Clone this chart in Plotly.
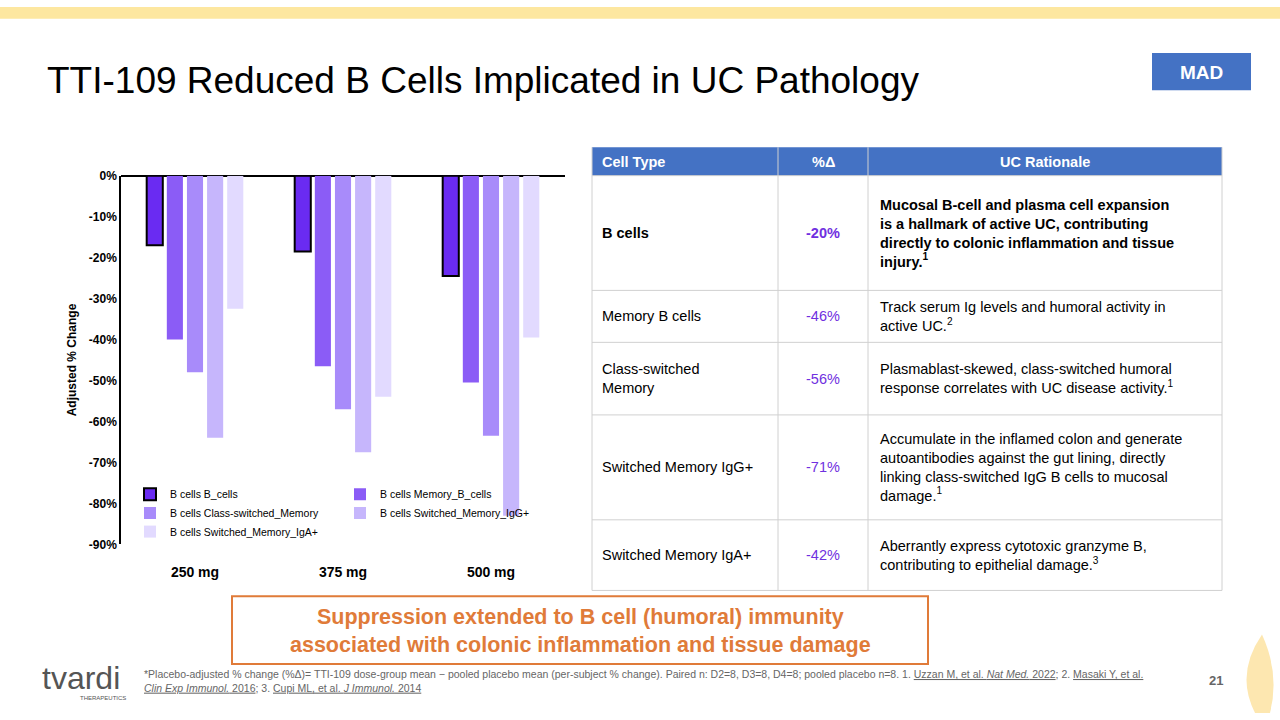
import plotly.graph_objects as go

doses = ["250 mg", "375 mg", "500 mg"]
series = ["B cells B_cells", "B cells Memory_B_cells", "B cells Class-switched_Memory",
          "B cells Switched_Memory_IgG+", "B cells Switched_Memory_IgA+"]
values = [
    [-17, -18.5, -24.5],
    [-40, -46.5, -50.5],
    [-48, -57, -63.5],
    [-64, -67.5, -83],
    [-32.5, -54, -39.5],
]
colors = ["#6a2bf2", "#8b5cf6", "#a88bfa", "#c6b6fc", "#e2daff"]
legend_ids = ["legend", "legend", "legend2", "legend2", "legend3"]
yticks = [0, -10, -20, -30, -40, -50, -60, -70, -80, -90]

cell_types = ["B cells", "Memory B cells", "Class-switched<br>Memory", "Switched Memory IgG+", "Switched Memory IgA+"]
pct = ["-20%", "-46%", "-56%", "-71%", "-42%"]
rationale = [
    "Mucosal B-cell and plasma cell expansion<br>is a hallmark of active UC, contributing<br>directly to colonic inflammation and tissue<br>injury.<sup>1</sup>",
    "Track serum Ig levels and humoral activity in<br>active UC.<sup>2</sup>",
    "Plasmablast-skewed, class-switched humoral<br>response correlates with UC disease activity.<sup>1</sup>",
    "Accumulate in the inflamed colon and generate<br>autoantibodies against the gut lining, directly<br>linking class-switched IgG B cells to mucosal<br>damage.<sup>1</sup>",
    "Aberrantly express cytotoxic granzyme B,<br>contributing to epithelial damage.<sup>3</sup>",
]
row_edges = [143, 172, 289, 342, 416, 523, 595]
col_edges = [592, 778, 868, 1222]

W, H = 1280, 720
fig = go.Figure()
for i, s in enumerate(series):
    fig.add_trace(go.Bar(x=doses, y=values[i], name=s, marker_color=colors[i], legend=legend_ids[i],
                         marker_line_color="black", marker_line_width=2 if i == 0 else 0))

def px(x): return x / W
def py(y): return 1 - y / H

leg = dict(orientation="h", xanchor="left", yanchor="middle", entrywidth=165,
           font=dict(size=10.5), bgcolor="rgba(0,0,0,0)", itemwidth=30)
fig.update_layout(
    width=W, height=H, margin=dict(l=0, r=0, t=0, b=0),
    paper_bgcolor="white", plot_bgcolor="white",
    font=dict(family="Liberation Sans, Arial", color="black"),
    barmode="group", bargap=0.32, bargroupgap=0.2,
    xaxis=dict(domain=[121 / W, 565 / W], tickfont=dict(size=14, family="Liberation Sans", weight="bold"),
               ticklabelstandoff=18, showline=False),
    yaxis=dict(domain=[1 - 548 / H, 1 - 172 / H], range=[-90, 0], tickvals=yticks,
               ticktext=[f"{v}%" for v in yticks], tickfont=dict(size=12, weight="bold"),
               showgrid=False, showline=True, linecolor="black", linewidth=1.5,
               zeroline=True, zerolinecolor="black", zerolinewidth=1.5,
               title=dict(text="Adjusted % Change", font=dict(size=12, weight="bold"), standoff=10)),
    legend=dict(leg, x=px(130), y=py(497)),
    legend2=dict(leg, x=px(130), y=py(516)),
    legend3=dict(leg, x=px(130), y=py(535)),
    showlegend=True,
)

shapes = []
ann = []
def A(text, x, y, xanchor="center", **kw):
    d = dict(text=text, x=px(x), y=py(y), xref="paper", yref="paper", showarrow=False,
             xanchor=xanchor, yanchor="middle")
    d.update(kw)
    ann.append(d)

# top banner
shapes.append(dict(type="rect", xref="paper", yref="paper", x0=0, x1=1, y0=py(12), y1=1,
                   fillcolor="#fde7a0", line_width=0))
A("TTI-109 Reduced B Cells Implicated in UC Pathology", 45, 75, "left", font=dict(size=37, color="black"))
shapes.append(dict(type="rect", xref="paper", yref="paper", x0=px(1152), x1=px(1251), y0=py(85), y1=py(47),
                   fillcolor="#4472c4", line_width=0))
A("<b>MAD</b>", 1201, 67, font=dict(size=19, color="white"))

# table
shapes.append(dict(type="rect", xref="paper", yref="paper", x0=px(col_edges[0]), x1=px(col_edges[-1]),
                   y0=py(row_edges[1]), y1=py(row_edges[0]), fillcolor="#4472c4", line_width=0))
for y in row_edges[1:]:
    shapes.append(dict(type="line", xref="paper", yref="paper", x0=px(col_edges[0]), x1=px(col_edges[-1]),
                       y0=py(y), y1=py(y), line=dict(color="#d0d0d0", width=1)))
for x in col_edges:
    shapes.append(dict(type="line", xref="paper", yref="paper", x0=px(x), x1=px(x),
                       y0=py(row_edges[-1]), y1=py(row_edges[0]), line=dict(color="#d0d0d0", width=1)))
headers = ["Cell Type", "%Δ", "UC Rationale"]
for j, h in enumerate(headers):
    if j == 0:
        A(f"<b>{h}</b>", col_edges[0] + 8, 158, "left", font=dict(size=14.5, color="white"))
    else:
        A(f"<b>{h}</b>", (col_edges[j] + col_edges[j + 1]) / 2, 158, font=dict(size=14.5, color="white"))
for i in range(5):
    yc = (row_edges[i + 1] + row_edges[i + 2]) / 2
    b = (lambda t: f"<b>{t}</b>") if i == 0 else (lambda t: t)
    A(b(cell_types[i]), col_edges[0] + 8, yc, "left", align="left", font=dict(size=14.5))
    A(b(pct[i]), (col_edges[1] + col_edges[2]) / 2, yc, font=dict(size=14.5, color="#7030e0"))
    A(b(rationale[i]), col_edges[2] + 10, yc, "left", align="left", font=dict(size=14.5))

# callout
shapes.append(dict(type="rect", xref="paper", yref="paper", x0=px(232), x1=px(928), y0=py(670), y1=py(601),
                   line=dict(color="#e07b39", width=2), fillcolor="white"))
A("<b>Suppression extended to B cell (humoral) immunity<br>associated with colonic inflammation and tissue damage</b>",
  580, 636, font=dict(size=21.5, color="#e07b39"))
# footer
A("tvardi", 40, 684, "left", font=dict(size=32, color="#555555"))
A("THERAPEUTICS", 103, 705, font=dict(size=6, color="#555555"))
A("*Placebo-adjusted % change (%Δ)= TTI-109 dose-group mean − pooled placebo mean (per-subject % change). Paired n: D2=8, D3=8, D4=8; pooled placebo n=8. 1. <u>Uzzan M, et al. <i>Nat Med.</i> 2022</u>; 2. <u>Masaki Y, et al.</u><br><u><i>Clin Exp Immunol.</i> 2016</u>; 3. <u>Cupi ML, et al. <i>J Immunol.</i> 2014</u>",
  142, 687, "left", align="left", font=dict(size=10.5, color="#666666"))
A("<b>21</b>", 1216, 687, font=dict(size=13, color="#666666"))
shapes.append(dict(type="path", xref="paper", yref="paper",
                   path=f"M {px(1255)} {py(720)} Q {px(1235)} {py(680)} {px(1262)} {py(640)} Q {px(1280)} {py(680)} {px(1270)} {py(720)} Z",
                   fillcolor="#fde7b0", line_width=0, layer="below"))

fig.update_layout(shapes=shapes, annotations=ann)
fig.write_html("out.html", config={"displayModeBar": False},
               post_script="document.body.style.margin='0';")
